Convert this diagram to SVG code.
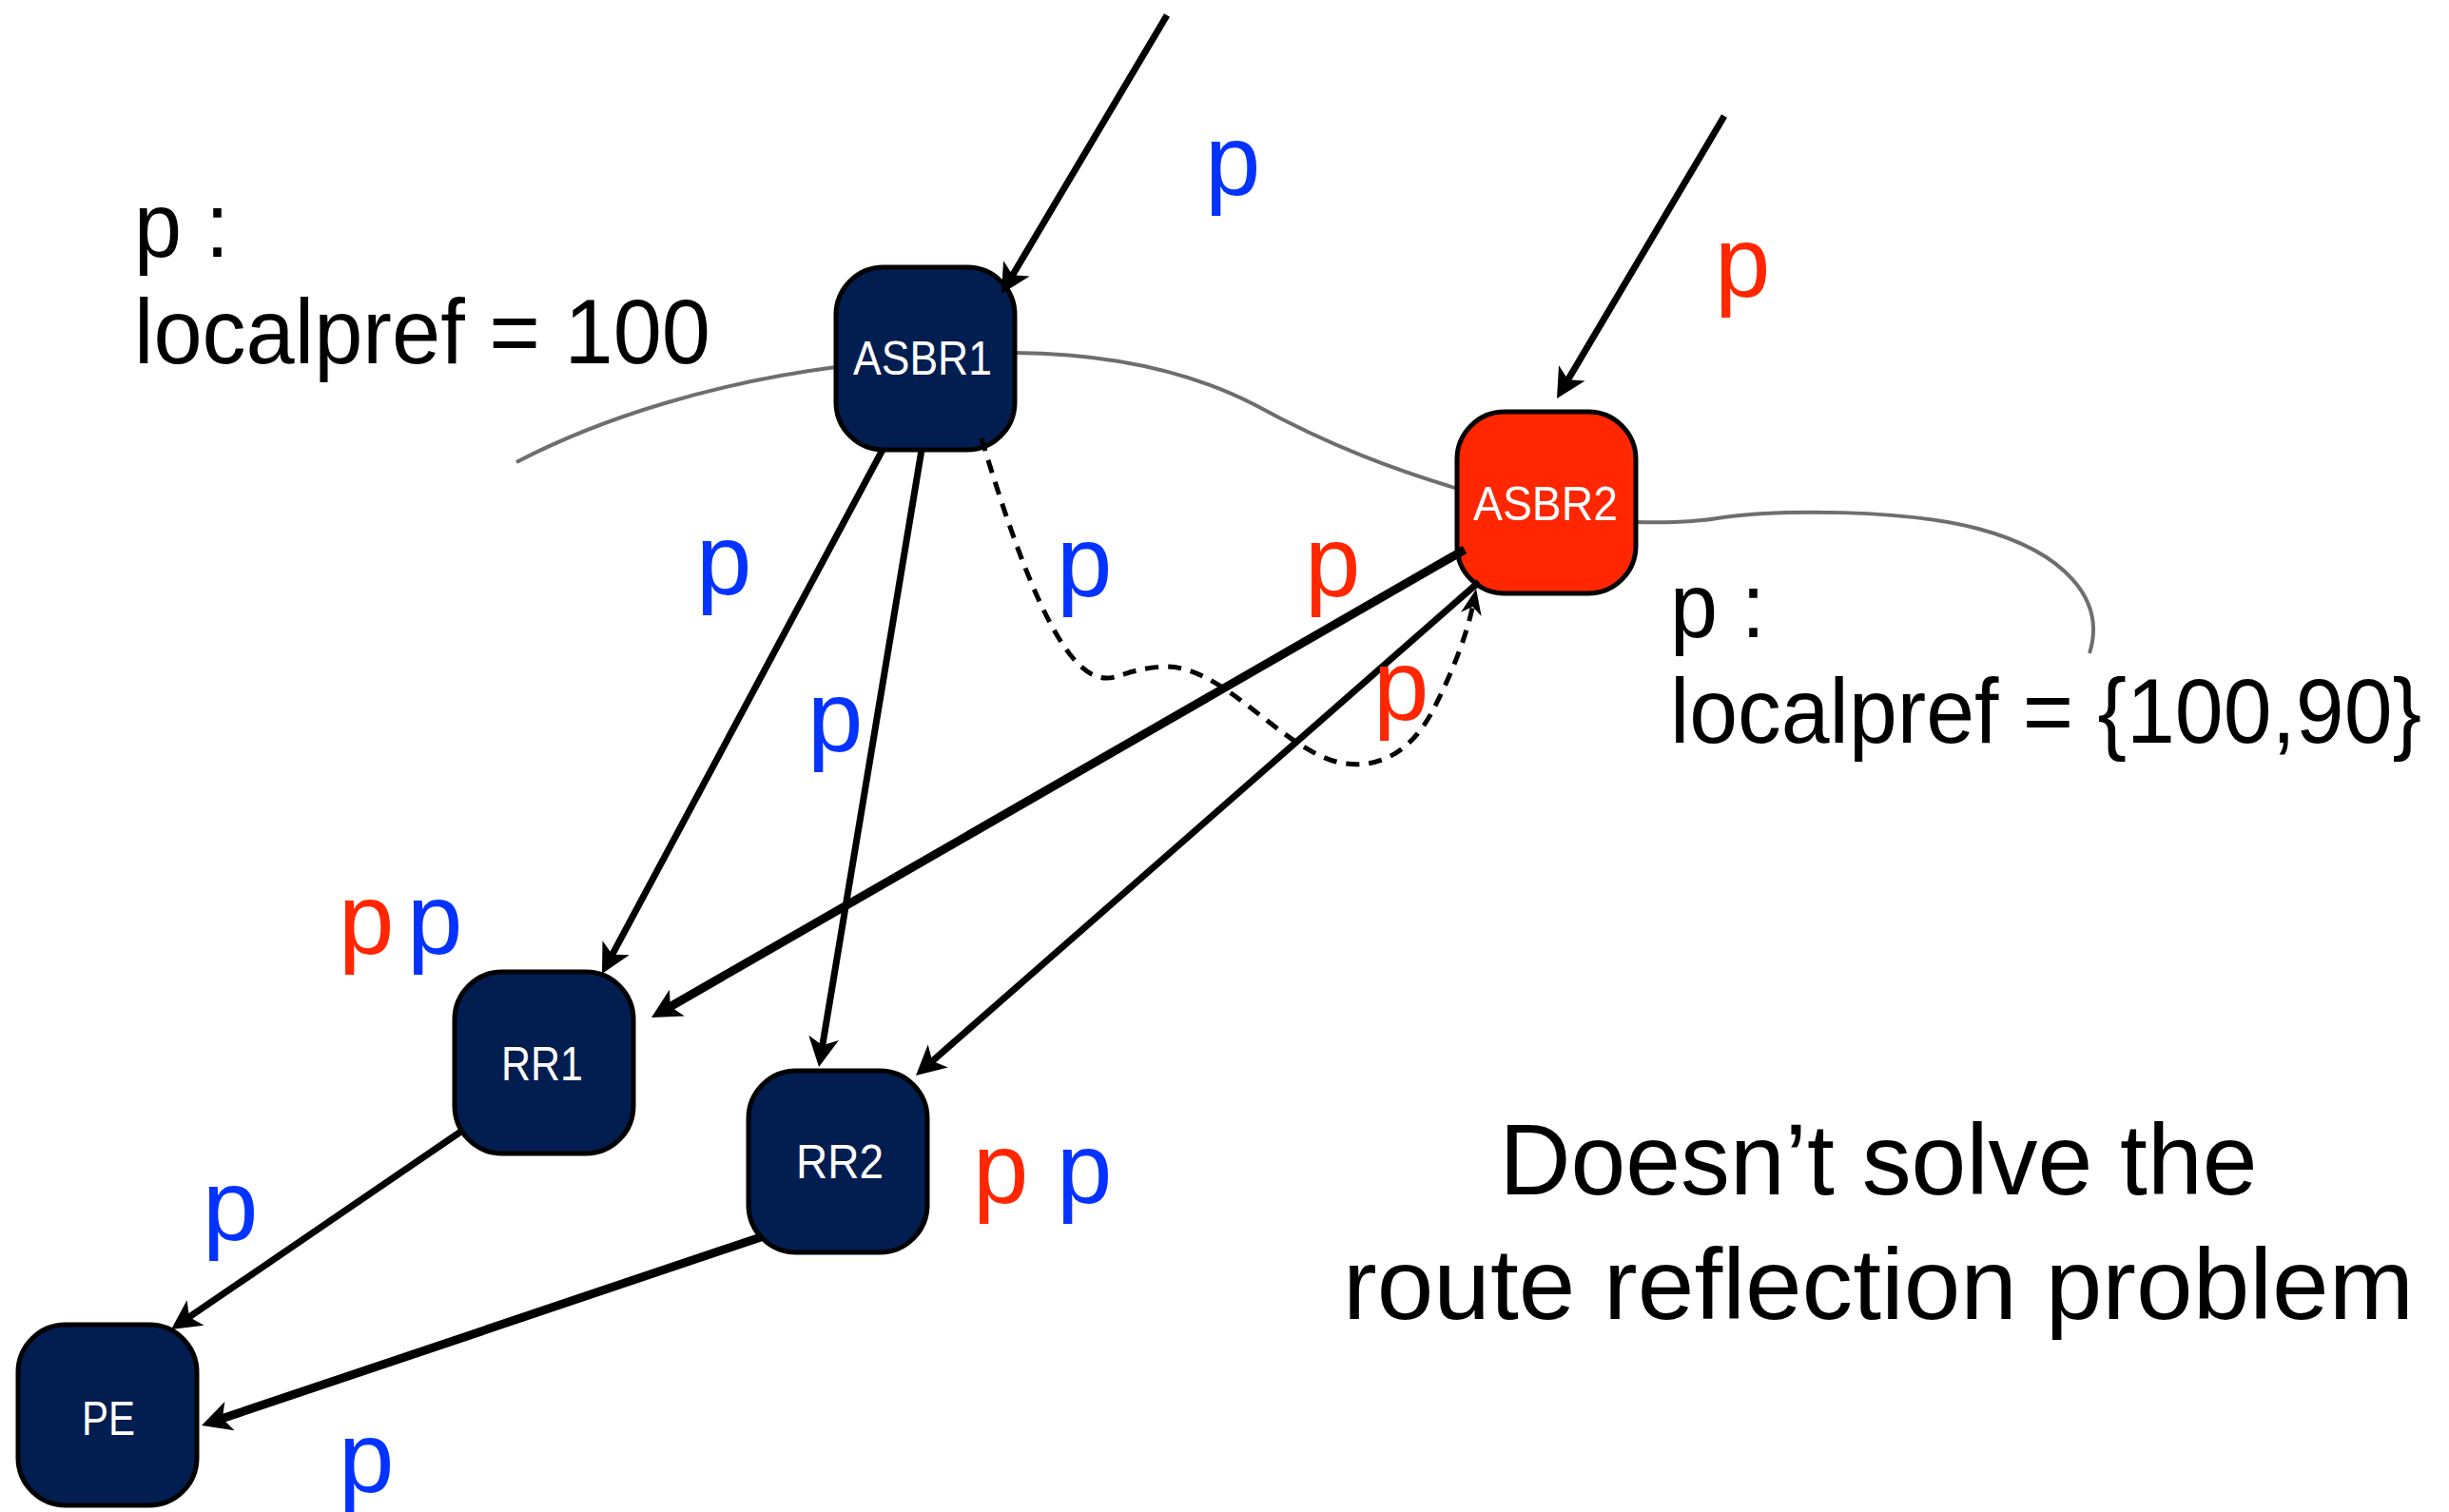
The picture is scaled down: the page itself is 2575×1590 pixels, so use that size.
<svg xmlns="http://www.w3.org/2000/svg" width="2575" height="1590" viewBox="0 0 2575 1590">
  <style>
    .txt { font-family: "Liberation Sans", Arial, sans-serif; }
    .big { font-size: 96px; fill: #000; }
    .note { font-size: 105px; fill: #000; }
    .pb { font-size: 105px; fill: #0433FF; }
    .pr { font-size: 105px; fill: #FF2600; }
    .node rect { stroke: #000; stroke-width: 5; }
    .navy { fill: #021D50; }
    .red { fill: #FF2600; }
    .node text { font-size: 50px; fill: #fff; text-anchor: middle; }
    .edge { fill: none; stroke: #000; stroke-width: 7; marker-end: url(#arrow); }
    .thick { stroke-width: 9; }
    .dash { fill: none; stroke: #000; stroke-width: 5; stroke-dasharray: 14 10; marker-end: url(#arrowSmall); }
    .border { fill: none; stroke: #6E6E6E; stroke-width: 4; }
  </style>
  <defs>
    <marker id="arrow" markerUnits="userSpaceOnUse" viewBox="-34 -18 36 36" markerWidth="36" markerHeight="36" refX="-20" refY="0" orient="auto">
      <path d="M0,0 L-31,-16 L-23,0 L-31,16 Z" fill="#000" stroke="none"/>
    </marker>
    <marker id="arrowSmall" markerUnits="userSpaceOnUse" viewBox="-30 -14 32 28" markerWidth="32" markerHeight="28" refX="-16" refY="0" orient="auto">
      <path d="M0,0 L-27,-11 L-19,0 L-27,11 Z" fill="#000" stroke="none"/>
    </marker>
  </defs>

  <rect width="2575" height="1590" fill="#fff"/>

  <!-- AS boundary curves -->
  <g id="boundaries">
    <path class="border" d="M543 486 C635 438 755 402 879 386"/>
    <path class="border" d="M1067 371 C1180 372 1260 395 1320 426 C1400 470 1470 495 1533 514"/>
    <path class="border" d="M1719 549 C1760 550 1790 548 1812 544 C1870 536 2000 535 2080 556 C2170 580 2215 630 2197 687"/>
  </g>

  <!-- routers -->
  <g id="asbr1" class="node">
    <rect class="navy" x="879" y="281" width="188" height="192" rx="50" ry="50"/>
    <text class="txt" x="970" y="394" textLength="146" lengthAdjust="spacingAndGlyphs">ASBR1</text>
  </g>
  <g id="asbr2" class="node">
    <rect class="red" x="1532" y="433" width="188" height="191" rx="50" ry="50"/>
    <text class="txt" x="1625" y="547" textLength="152" lengthAdjust="spacingAndGlyphs">ASBR2</text>
  </g>
  <g id="rr1" class="node">
    <rect class="navy" x="478" y="1022" width="188" height="191" rx="50" ry="50"/>
    <text class="txt" x="570" y="1136" textLength="86" lengthAdjust="spacingAndGlyphs">RR1</text>
  </g>
  <g id="rr2" class="node">
    <rect class="navy" x="787" y="1126" width="188" height="191" rx="50" ry="50"/>
    <text class="txt" x="883" y="1239" textLength="92" lengthAdjust="spacingAndGlyphs">RR2</text>
  </g>
  <g id="pe" class="node">
    <rect class="navy" x="19" y="1393" width="188" height="190" rx="50" ry="50"/>
    <text class="txt" x="114" y="1509" textLength="56" lengthAdjust="spacingAndGlyphs">PE</text>
  </g>

  <!-- route propagation -->
  <g id="connectors">
    <path class="edge" d="M1227 16 L1063.2 291.8"/>
    <path class="edge" d="M1813 122 L1647.2 401.8"/>
    <path class="edge" d="M928 473 L642.4 1006.4"/>
    <path class="edge" d="M969 473 L864.3 1102.3"/>
    <path class="edge thick" d="M1540 578 L702.3 1060"/>
    <path class="edge" d="M1555 612 L978 1117.8"/>
    <path class="edge" d="M486 1189 L196.5 1386.7"/>
    <path class="edge thick" d="M800 1301 L231 1492.6"/>
    <path class="dash" d="M1032 461 C1062 560 1105 690 1150 710 C1172 720 1180 703 1224 701 C1285 699 1345 785 1405 801 C1448 812 1483 790 1505 750 C1525 712 1542 670 1549 635"/>
  </g>

  <!-- route labels -->
  <g id="labels">
    <text class="txt pb" x="1267" y="205">p</text>
    <text class="txt pr" x="1803" y="312">p</text>
    <text class="txt pb" x="732" y="625">p</text>
    <text class="txt pb" x="1111" y="627">p</text>
    <text class="txt pr" x="1372" y="627">p</text>
    <text class="txt pb" x="849" y="790">p</text>
    <text class="txt pr" x="1444" y="757">p</text>
    <text class="txt pr" x="356" y="1003">p</text>
    <text class="txt pb" x="428" y="1003">p</text>
    <text class="txt pr" x="1023" y="1265">p</text>
    <text class="txt pb" x="1111" y="1265">p</text>
    <text class="txt pb" x="213" y="1304">p</text>
    <text class="txt pb" x="356" y="1569">p</text>
  </g>

  <!-- attribute notes -->
  <g id="notes">
    <text class="txt big" x="141" y="270" textLength="100" lengthAdjust="spacingAndGlyphs">p :</text>
    <text class="txt big" x="141" y="382" textLength="606" lengthAdjust="spacingAndGlyphs">localpref = 100</text>
    <text class="txt big" x="1756" y="670" textLength="100" lengthAdjust="spacingAndGlyphs">p :</text>
    <text class="txt big" x="1756" y="781" textLength="790" lengthAdjust="spacingAndGlyphs">localpref = {100,90}</text>
    <text class="txt note" x="1975" y="1256" text-anchor="middle" textLength="797" lengthAdjust="spacingAndGlyphs">Doesn’t solve the</text>
    <text class="txt note" x="1975" y="1387" text-anchor="middle" textLength="1126" lengthAdjust="spacingAndGlyphs">route reflection problem</text>
  </g>
</svg>
